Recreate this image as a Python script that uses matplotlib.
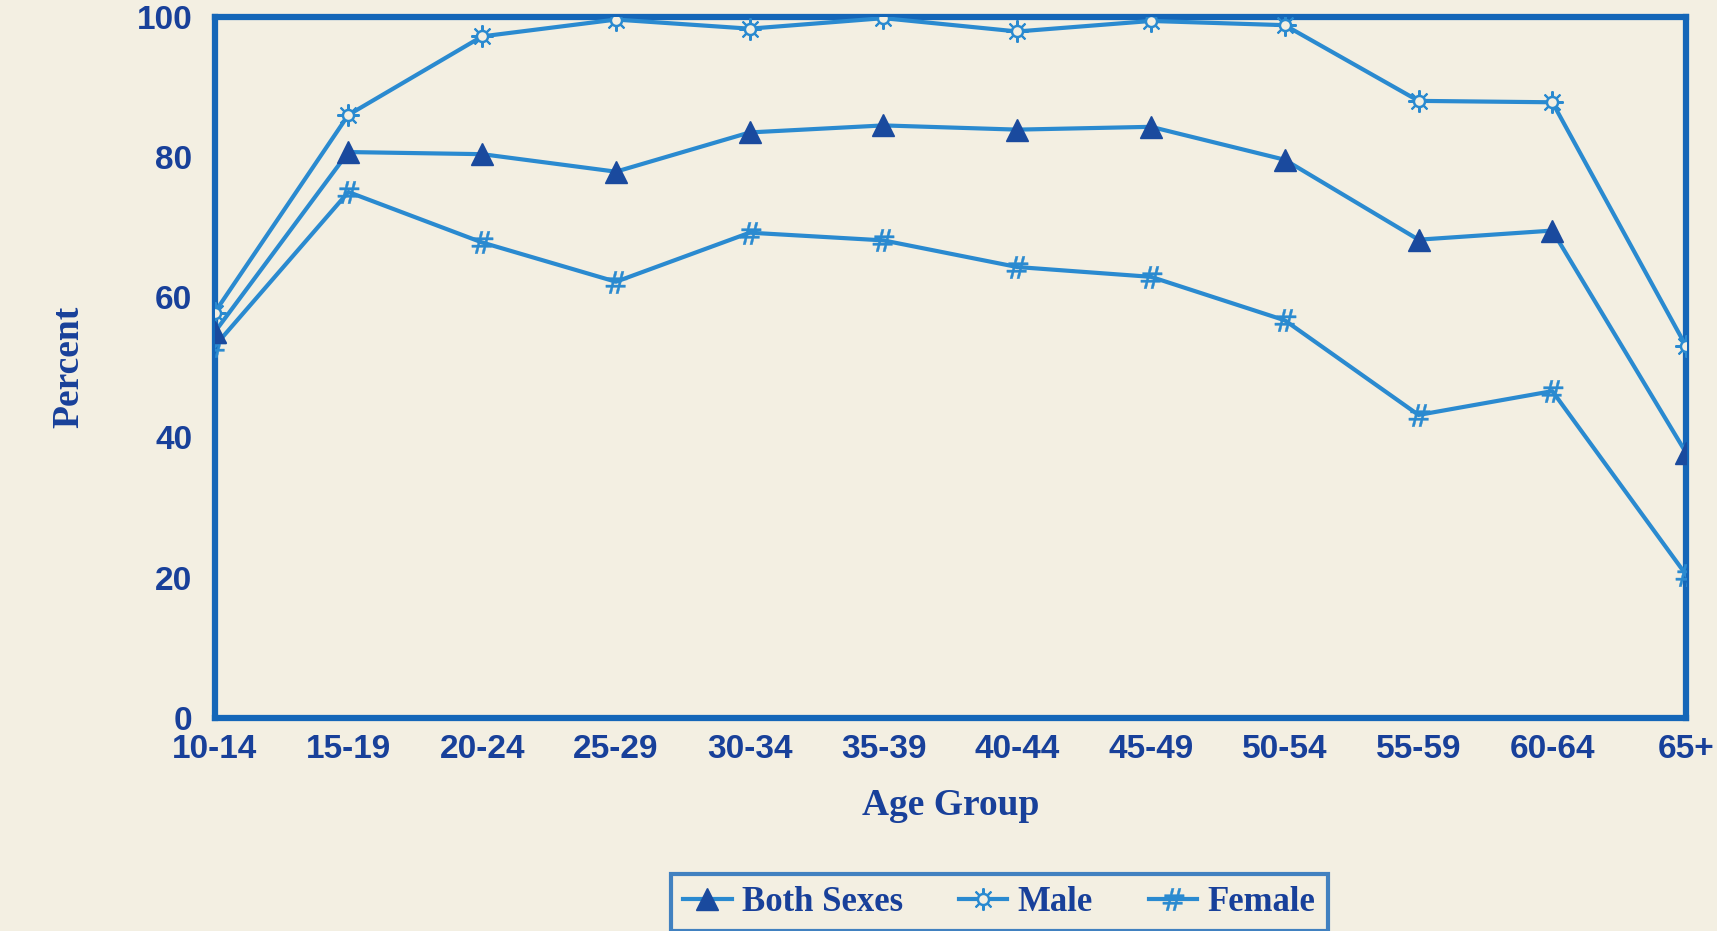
import numpy as np
import matplotlib
matplotlib.use("Agg")
import matplotlib.pyplot as plt
from matplotlib.legend_handler import HandlerTuple

# Age groups and percentages
age_groups = ["10-14", "15-19", "20-24", "25-29", "30-34", "35-39",
              "40-44", "45-49", "50-54", "55-59", "60-64", "65+"]
both_sexes = [55, 80.7, 80.4, 77.9, 83.5, 84.5, 83.9, 84.3, 79.6, 68.2, 69.5, 37.8]
male = [57.8, 86, 97.2, 99.6, 98.3, 99.8, 97.9, 99.4, 98.8, 88, 87.8, 53]
female = [53, 75, 67.8, 62.2, 69.2, 68.1, 64.3, 62.9, 56.7, 43.2, 46.6, 20.4]
y_ticks = [0, 20, 40, 60, 80, 100]

paper = "#f3efe2"
frame_blue = "#1466b8"
line_blue = "#2a8ad0"
marker_navy = "#1a4a9e"
text_navy = "#18409a"

sans = ["Liberation Sans Narrow", "Liberation Sans", "DejaVu Sans"]
serif = ["Liberation Serif", "DejaVu Serif"]

fig = plt.figure(figsize=(17.17, 9.31), dpi=100, facecolor=paper)
ax = fig.add_axes([0.125, 0.229, 0.857, 0.753])
ax.set_facecolor(paper)

x = np.arange(len(age_groups))
# male marker: little sun = spokes + open circle
male_line, = ax.plot(x, male, color=line_blue, lw=3, marker=(8, 2, 0), ms=16,
                     mec=line_blue, mew=1.5, zorder=3)
male_ring, = ax.plot(x, male, ls="none", marker="o", ms=8, mfc=paper,
                     mec=line_blue, mew=1.8, zorder=3.5)
both_line, = ax.plot(x, both_sexes, color=line_blue, lw=3, marker="^", ms=16,
                     mec=marker_navy, mfc=marker_navy, zorder=4)
fem_line, = ax.plot(x, female, color=line_blue, lw=3, marker="$\\#$", ms=16,
                    mec=line_blue, mfc=line_blue, mew=0.3, zorder=3)

ax.set_xlim(0, len(age_groups) - 1)
ax.set_ylim(0, 100)
ax.set_xticks(x)
ax.set_xticklabels(age_groups)
ax.set_yticks(y_ticks)
ax.tick_params(length=0, colors=text_navy)
ax.tick_params(axis="y", pad=16)
ax.tick_params(axis="x", pad=12)
for lab in ax.get_xticklabels() + ax.get_yticklabels():
    lab.set_family(sans)
    lab.set_fontweight("bold")
    lab.set_fontsize(24)
for s in ax.spines.values():
    s.set_color(frame_blue)
    s.set_linewidth(4.5)

ax.set_xlabel("Age Group", family=serif, fontweight="bold", fontsize=27,
              color=text_navy, labelpad=16)
ax.set_ylabel("Percent", family=serif, fontweight="bold", fontsize=27,
              color=text_navy, labelpad=36)

leg = fig.legend([both_line, (male_line, male_ring), fem_line],
                 ["Both Sexes", "Male", "Female"],
                 handler_map={tuple: HandlerTuple(ndivide=1, pad=0)},
                 loc="upper center", bbox_to_anchor=(0.582, 0.08), ncol=3,
                 frameon=True, fancybox=False, handlelength=1.4,
                 handletextpad=0.3, columnspacing=1.6, borderpad=0.35,
                 prop={"family": serif, "weight": "bold", "size": 25})
leg.get_frame().set_edgecolor(frame_blue)
leg.get_frame().set_linewidth(3)
leg.get_frame().set_facecolor(paper)
for t in leg.get_texts():
    t.set_color(text_navy)

fig.savefig("out.png", dpi=100, facecolor=paper)
